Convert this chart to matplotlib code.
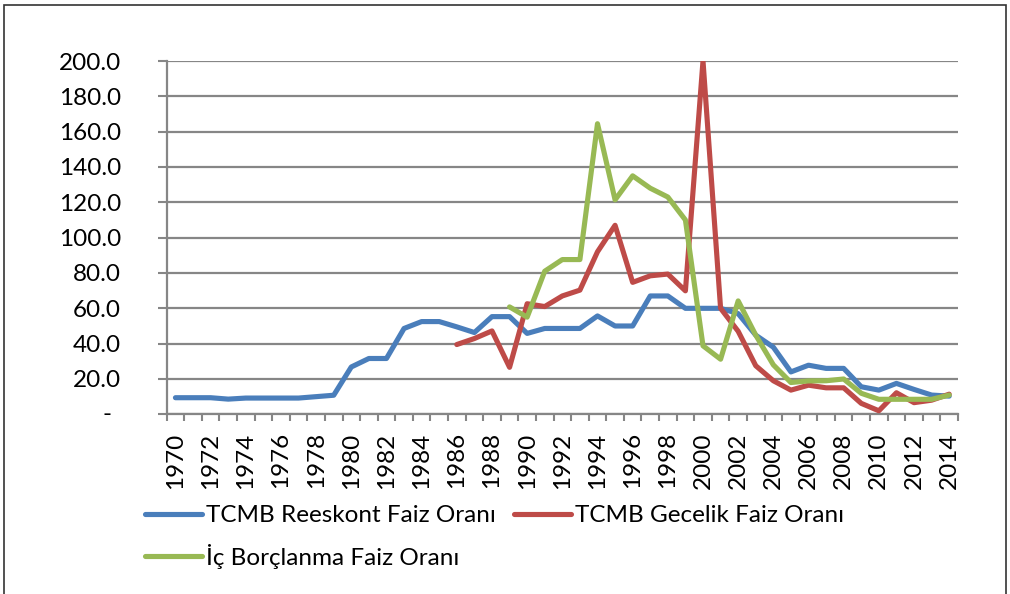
import numpy as np
import matplotlib
matplotlib.use("Agg")
import matplotlib.pyplot as plt
from matplotlib.patches import Rectangle

plt.rcParams['font.family'] = ['Lato', 'DejaVu Sans']

years = list(range(1970, 2015))

# TCMB Reeskont Faiz Oranı
reeskont = [9.4, 9.4, 9.4, 8.6, 9.2, 9.2, 9.2, 9.2, 10.0, 10.8,
            26.8, 31.6, 31.6, 48.6, 52.5, 52.5, 49.5, 46.3, 55.3, 55.3,
            45.8, 48.6, 48.6, 48.6, 55.7, 50.0, 50.0, 67.0, 67.0, 60.0,
            60.0, 60.0, 57.0, 44.8, 38.0, 24.0, 27.8, 26.0, 26.0, 15.6,
            13.7, 17.5, 14.1, 10.9, 10.3]

# TCMB Gecelik Faiz Oranı (1986-)
gecelik = [np.nan] * 16 + [39.5, 42.9, 47.2, 26.6,
                           62.6, 61.0, 67.0, 70.3, 92.0, 107.0, 74.7, 78.4, 79.4, 69.9,
                           200.0, 60.0, 47.0, 27.5, 19.0, 13.7, 16.5, 15.0, 15.0, 6.2,
                           2.0, 12.2, 6.6, 8.0, 11.4]

# İç Borçlanma Faiz Oranı (1989-)
ic_borc = [np.nan] * 19 + [60.8,
                           55.0, 81.0, 87.6, 87.6, 164.5, 121.4, 135.0, 128.0, 123.0, 110.0,
                           38.8, 31.2, 64.2, 44.8, 28.0, 18.0, 18.9, 19.0, 20.0, 11.9,
                           8.5, 8.5, 8.5, 8.5, 10.9]

yticks = [0, 20, 40, 60, 80, 100, 120, 140, 160, 180, 200]

grid_c = '#868686'
fs = 17.5

fig = plt.figure(figsize=(10.1, 5.94), dpi=100)
ax = fig.add_axes([0.165, 0.3025, 0.7835, 0.5948])

x = np.arange(len(years))
kw = dict(lw=3.7, solid_joinstyle='round', solid_capstyle='round', zorder=3)
l1, = ax.plot(x, reeskont, color='#4A7EBB', label='TCMB Reeskont Faiz Oranı', **kw)
l2, = ax.plot(x, gecelik, color='#BE4B48', label='TCMB Gecelik Faiz Oranı', **kw)
l3, = ax.plot(x, ic_borc, color='#98B954', label='İç Borçlanma Faiz Oranı', **kw)

ax.set_xlim(-0.5, len(years) - 0.5)
ax.set_ylim(0, 200)

# y axis
ax.set_yticks(yticks)
ax.set_yticklabels(['' if v == 0 else '%.1f' % v for v in yticks], fontsize=fs)
ax.tick_params(axis='y', length=6.7, width=1.5, color=grid_c, pad=26)
ax.text(-0.0805, 0, '-', transform=ax.get_yaxis_transform(), ha='left',
        va='center', fontsize=fs)
ax.yaxis.grid(True, color=grid_c, lw=1.6, zorder=1)
ax.set_axisbelow(True)

# x axis: labels every 2 years, ticks on category borders
ax.set_xticks(x[::2])
ax.set_xticklabels([str(y) for y in years[::2]], rotation=90, fontsize=fs)
ax.set_xticks(np.arange(len(years) + 1) - 0.5, minor=True)
ax.tick_params(axis='x', which='major', length=0, pad=13)
ax.tick_params(axis='x', which='minor', length=5, width=1.5, color=grid_c)

for s in ['top', 'right']:
    ax.spines[s].set_visible(False)
for s in ['left', 'bottom']:
    ax.spines[s].set_color(grid_c)
    ax.spines[s].set_linewidth(1.6)

fig.legend(handles=[l1, l3, l2], loc='upper left',
           bbox_to_anchor=(145 / 1010, 1 - 505 / 594), ncol=2, frameon=False,
           fontsize=fs, handlelength=2.35, handletextpad=0.15,
           columnspacing=0.75, labelspacing=0.72, borderpad=0, borderaxespad=0)

# outer frame of the picture
fig.patches.append(Rectangle((3.5 / 1010, -0.05), 1002 / 1010, 1.05 - 4.5 / 594,
                             transform=fig.transFigure, fill=False,
                             edgecolor='#333333', lw=1.2))

fig.savefig('out.png', dpi=100)
